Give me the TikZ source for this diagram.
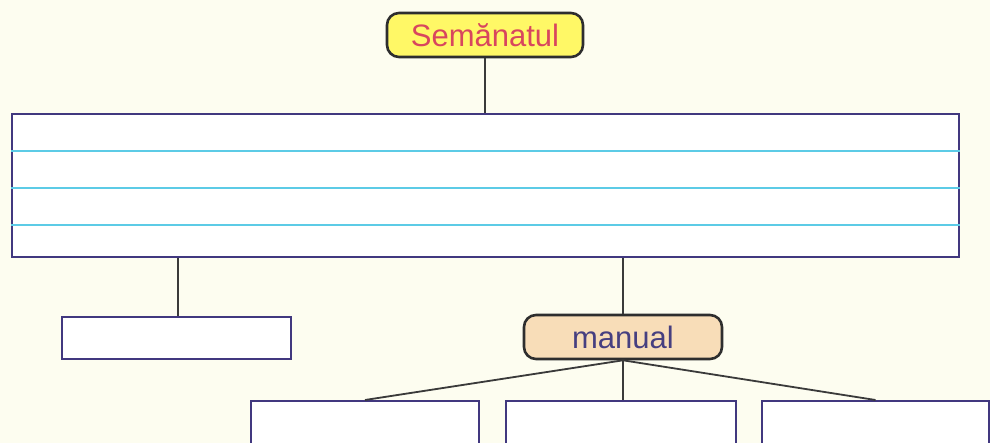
\documentclass[tikz,border=0pt]{standalone}
\usepackage{fontspec}
\setmainfont{Liberation Sans}
\definecolor{bgcol}{HTML}{FDFDF0}
\definecolor{boxline}{HTML}{41387F}
\definecolor{ruled}{HTML}{5CCBE6}
\definecolor{conn}{HTML}{3A3A3A}
\definecolor{semfill}{HTML}{FFF866}
\definecolor{semtext}{HTML}{D8465E}
\definecolor{manfill}{HTML}{F8DDB8}
\definecolor{mantext}{HTML}{463F80}
\begin{document}
\begin{tikzpicture}[x=1pt,y=-1pt,
  box/.style={draw=boxline,line width=2pt,fill=white,inner sep=0pt},
  pill/.style={draw=conn!80!black,line width=2.6pt,rounded corners=12pt,inner sep=0pt,
    font=\fontsize{31}{31}\selectfont,minimum height=44pt},
  link/.style={draw=conn,line width=1.8pt},
  ruledline/.style={draw=ruled,line width=1.3pt}]
\fill[bgcol] (0,0) rectangle (990,443);
\useasboundingbox (0,0) rectangle (990,443);
\node[pill,fill=semfill,text=semtext,minimum width=196pt] (sem) at (485,35) {Semănatul};
\node[box,minimum width=947pt,minimum height=143pt] (big) at (485.5,185.5) {};
\draw[ruledline] (big.west |- 0,151) -- (big.east |- 0,151);
\draw[ruledline] (big.west |- 0,188) -- (big.east |- 0,188);
\draw[ruledline] (big.west |- 0,225) -- (big.east |- 0,225);
\node[box,minimum width=229pt,minimum height=42pt] (small) at (176.5,338) {};
\node[pill,fill=manfill,text=mantext,minimum width=198pt] (man) at (623,337) {manual};
\node[box,minimum width=228pt,minimum height=70pt] (b1) at (365,436) {};
\node[box,minimum width=230pt,minimum height=70pt] (b2) at (621,436) {};
\node[box,minimum width=227pt,minimum height=70pt] (b3) at (875.5,436) {};
\draw[link] (sem.south) -- (sem.south |- big.north);
\draw[link] (big.south -| 178,0) -- (small.north -| 178,0);
\draw[link] (big.south -| man.north) -- (man.north);
\draw[link] (man.south) -- (b1.north);
\draw[link] (man.south) -- (man.south |- b2.north);
\draw[link] (man.south) -- (b3.north);
\end{tikzpicture}
\end{document}
